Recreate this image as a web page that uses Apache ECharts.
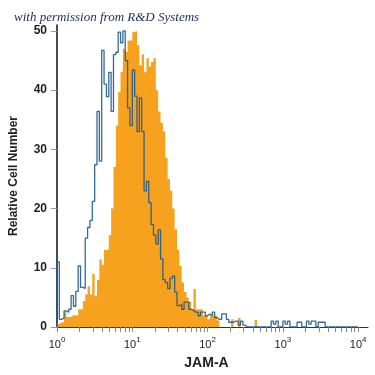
<!DOCTYPE html>
<html>
<head>
<meta charset="utf-8">
<script src="https://cdn.jsdelivr.net/npm/echarts@6/dist/echarts.min.js"></script>
<style>html,body{margin:0;padding:0;background:#fff}#c{width:375px;height:375px}</style>
</head>
<body>
<div id="c"></div>
<script>
// Histogram channels: 32 log-spaced channels per decade, 10^0 .. 10^4
const channelsPerDecade = 32;
const isotypeCounts = [
  11, 1.3, 1.5, 2.7, 2.5, 3, 5.3, 3.5, 6, 10.3,
  6.7, 6.5, 15, 16.8, 18, 21.2, 27.4, 36.4, 28, 46.7,
  41, 38.9, 43, 36.4, 46, 46.4, 49.8, 48, 50, 45,
  37, 34, 43.4, 39, 33, 38.7, 33, 23, 24.6, 21,
  17.3, 15.5, 14, 16.4, 11.5, 8, 7.5, 6.5, 8.2, 8.6,
  5.9, 3.6, 3.8, 3, 4.2, 4.2, 3, 2.8, 2.5, 2.5,
  1.9, 2.5, 2.5, 1.9, 2.2, 1.9, 2.5, 1.6, 1.3, 1.3,
  2.2, 2.2, 1.3, 0.8, 0.8, 1, 1, 0.3, 1, 0.3,
  0, 0, 0, 0, 0, 0, 0, 0, 0, 0,
  0, 1, 0.5, 1, 0, 0, 1, 0.5, 1, 0,
  0, 0, 0.8, 0.8, 0, 0, 1, 0.5, 1, 1,
  0, 0.8, 0.8, 0.8, 0, 0, 0, 0, 0, 0,
  0, 0, 0, 0, 0, 0, 0, 0
];
const jamACounts = [
  0.5, 0.8, 0.8, 2.5, 1.7, 1.7, 2, 2, 2, 3,
  3, 4.4, 5.5, 6.9, 5.5, 9, 5.2, 8, 11.4, 10.5,
  13, 13.1, 15.5, 20, 27, 34, 39.7, 43, 47, 46.5,
  48.4, 48.4, 49.8, 50, 47.6, 44.2, 46, 43, 45.4, 44,
  44.8, 45.4, 40, 36.4, 34.5, 33, 28.6, 25, 23, 20,
  16.5, 13, 10.3, 7.5, 5.9, 5, 4.3, 3, 6.4, 3,
  3, 3, 1.9, 1.9, 1.3, 1.9, 1.9, 1.9, 1.1, 0,
  0, 0, 0, 0, 1.3, 0, 0, 1.5, 0, 0,
  0, 0, 0, 0, 1.2, 0, 0, 0, 0, 0,
  0, 0, 0, 0, 0, 0, 0, 0, 0, 0,
  0, 0, 0, 0, 0, 0, 0, 0, 0, 0,
  0, 0, 0, 0, 0, 0, 0, 0, 0, 0,
  0, 0, 0, 0, 0, 0, 0, 0
];
const xTickValues = [1, 10, 100, 1000, 10000];
const xTickExponents = ['0', '1', '2', '3', '4'];
const xMinorTickValues = [
  1, 2, 3, 4, 5, 6, 7, 8, 9,
  10, 20, 30, 40, 50, 60, 70, 80, 90,
  100, 200, 300, 400, 500, 600, 700, 800, 900,
  1000, 2000, 3000, 4000, 5000, 6000, 7000, 8000, 9000,
  10000
];
const yTickValues = [0, 10, 20, 30, 40, 50];

function toSteps(counts, startAtZero) {
  const pts = [];
  if (startAtZero) pts.push([1, 0]);
  counts.forEach((c, i) => pts.push([Math.pow(10, i / channelsPerDecade), c]));
  pts.push([10000, 0]);
  return pts;
}

const font = '"Liberation Sans Narrow", "Liberation Sans", Arial, sans-serif';
const chart = echarts.init(document.getElementById('c'), null, {renderer: 'canvas'});
chart.setOption({
  animation: false,
  backgroundColor: '#ffffff',
  title: {
    text: 'with permission from R&D Systems',
    left: 9, top: 6,
    textStyle: {fontFamily: '"Liberation Serif", serif', fontStyle: 'italic', fontWeight: 'normal', fontSize: 13, color: '#1c2a5c'}
  },
  grid: {left: 55, right: 7, top: 25, bottom: 47},
  xAxis: {
    type: 'log', logBase: 10, min: 1, max: 13500,
    name: 'JAM-A', nameLocation: 'middle', nameGap: 29,
    nameTextStyle: {fontFamily: font, fontWeight: 'bold', fontSize: 14, color: '#222', padding: [0, 12, 0, 0]},
    axisLine: {show: true, lineStyle: {color: '#333', width: 1}},
    axisTick: {show: true, customValues: xMinorTickValues, length: 5, lineStyle: {color: '#888'}},
    minorTick: {show: false},
    splitLine: {show: false},
    axisLabel: {
      customValues: xTickValues, margin: 9,
      formatter: function (v) {
        const k = xTickValues.indexOf(v);
        return '{b|10}{s|' + (k >= 0 ? xTickExponents[k] : '') + '}';
      },
      rich: {
        b: {fontFamily: font, fontSize: 11, color: '#222', verticalAlign: 'bottom', lineHeight: 14},
        s: {fontFamily: font, fontSize: 8, color: '#222', verticalAlign: 'top', lineHeight: 10}
      }
    }
  },
  yAxis: {
    type: 'value', min: 0, max: 51,
    name: 'Relative Cell Number', nameLocation: 'middle', nameGap: 37,
    nameTextStyle: {fontFamily: font, fontWeight: 'bold', fontSize: 12, color: '#222'},
    axisLine: {show: true, lineStyle: {color: '#111', width: 1.5}},
    axisTick: {show: true, customValues: yTickValues, length: 6, lineStyle: {color: '#999'}},
    splitLine: {show: false},
    axisLabel: {customValues: yTickValues, margin: 10, fontFamily: font, fontWeight: 'bold', fontSize: 12, color: '#222'}
  },
  series: [
    {
      type: 'line', step: 'end', name: 'JAM-A',
      data: toSteps(jamACounts, false),
      showSymbol: false, symbol: 'none',
      lineStyle: {width: 0, color: '#F6A21E'},
      areaStyle: {color: '#F6A21E', opacity: 1},
      z: 2
    },
    {
      type: 'line', step: 'end', name: 'Isotype',
      data: toSteps(isotypeCounts, true),
      showSymbol: false, symbol: 'none',
      lineStyle: {width: 1.3, color: '#1f5a8c', opacity: 0.9},
      z: 3
    }
  ]
});
</script>
</body>
</html>
